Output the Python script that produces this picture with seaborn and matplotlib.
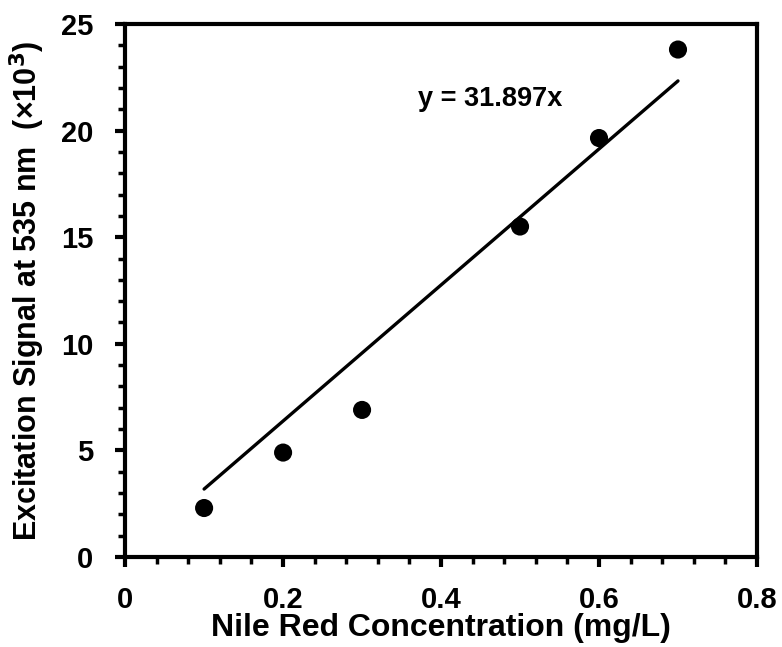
import numpy as np
import pandas as pd
import seaborn as sns
import matplotlib.pyplot as plt
from matplotlib.ticker import MultipleLocator

# data
conc = [0.1, 0.2, 0.3, 0.5, 0.6, 0.7]
signal = [2.3, 4.9, 6.9, 15.5, 19.65, 23.8]
slope = 31.897

df = pd.DataFrame({'conc': conc, 'signal': signal})
fit = pd.DataFrame({'conc': [min(conc), max(conc)]})
fit['signal'] = slope * fit['conc']

sns.set_style('ticks')
plt.rcParams['font.family'] = ['Liberation Sans', 'DejaVu Sans']
plt.rcParams['font.weight'] = 'bold'
for k in ['text.color', 'axes.labelcolor', 'xtick.color', 'ytick.color']:
    plt.rcParams[k] = 'black'

fig = plt.figure(figsize=(7.82, 6.47), dpi=100)
ax = fig.add_axes([0.160, 0.139, 0.808, 0.824])

sns.lineplot(data=fit, x='conc', y='signal', color='black', linewidth=2.4, ax=ax)
sns.scatterplot(data=df, x='conc', y='signal', color='black', s=170, edgecolor='none', ax=ax, zorder=3)

ax.text(0.371, 21.5, 'y = 31.897x', fontsize=19.5, fontweight='bold', va='center')

ax.set_xlim(0, 0.8)
ax.set_ylim(0, 25)
ax.set_xticks([0, 0.2, 0.4, 0.6, 0.8])
ax.set_xticklabels(['0', '0.2', '0.4', '0.6', '0.8'])
ax.xaxis.set_minor_locator(MultipleLocator(0.04))
ax.yaxis.set_major_locator(MultipleLocator(5))
ax.yaxis.set_minor_locator(MultipleLocator(1))

for sp in ax.spines.values():
    sp.set_linewidth(3)
    sp.set_color('black')
ax.tick_params(which='major', length=7, width=3, labelsize=21)
ax.tick_params(axis='y', which='major', pad=16)
ax.tick_params(axis='x', which='major', pad=14)
ax.tick_params(which='minor', length=5, width=2.5)

ax.set_xlabel('Nile Red Concentration (mg/L)', fontsize=23, fontweight='bold', labelpad=-1)
ax.set_ylabel('Excitation Signal at 535 nm  (×10$^\\mathbf{3}$)', fontsize=22, fontweight='bold', labelpad=10)

fig.savefig('out.png', dpi=100)
